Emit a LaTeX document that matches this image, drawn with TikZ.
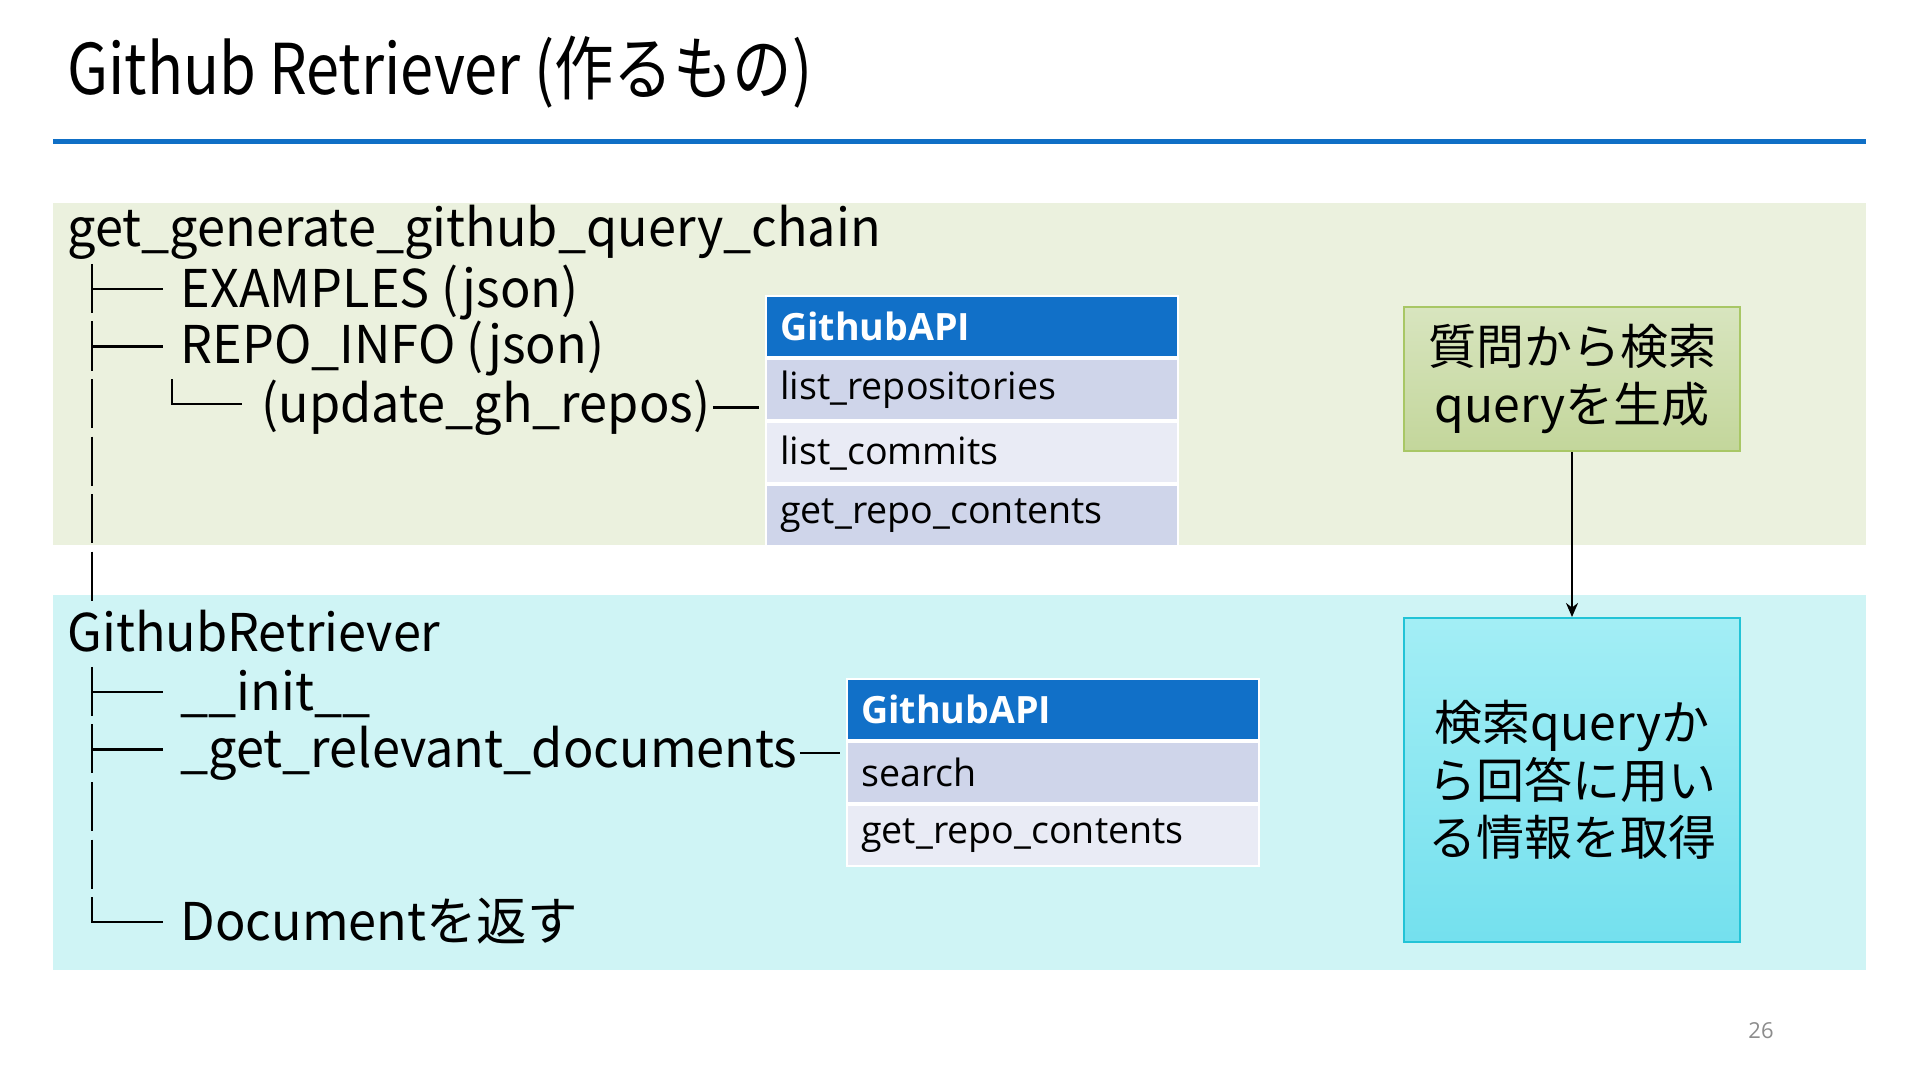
\documentclass[tikz,border=0pt]{standalone}
\usepackage{fontspec}
\setmainfont{Noto Sans CJK JP}
\newfontfamily\titlefont[FakeStretch=0.85]{Noto Sans CJK JP}
\newfontfamily\treefont[FakeStretch=0.97]{Noto Sans CJK JP}
\newfontfamily\tblfont{Open Sans}
\newfontfamily\boxfont{Noto Sans CJK JP}
\usetikzlibrary{arrows.meta}
\definecolor{rulebl}{HTML}{0F6FC6}
\definecolor{greenband}{HTML}{EBF1DE}
\definecolor{cyanband}{HTML}{CFF4F5}
\definecolor{hdrbl}{HTML}{1170C8}
\definecolor{rowdk}{HTML}{CFD5EA}
\definecolor{rowlt}{HTML}{E9EBF5}
\definecolor{gtop}{HTML}{D8E5BF}
\definecolor{gbot}{HTML}{C3D69B}
\definecolor{gline}{HTML}{A8C765}
\definecolor{ctop}{HTML}{A3EEF5}
\definecolor{cbot}{HTML}{74E0EE}
\definecolor{cline}{HTML}{22C3D6}
\definecolor{pgray}{HTML}{8C8C8C}
\begin{document}
\begin{tikzpicture}[x=0.5pt,y=-0.5pt,
  tree/.style={anchor=base west, inner sep=0pt, font=\treefont\fontsize{26}{30}\selectfont},
  treeline/.style={line width=1.3pt, black},
  cell/.style={anchor=north west, inner xsep=7pt, inner ysep=0pt, text width=192pt, minimum height=30.5pt, align=left, draw=white, line width=1.2pt, font=\tblfont\fontsize{18.8}{21}\selectfont},
  hdr/.style={cell, fill=hdrbl, text=white, font=\tblfont\bfseries\fontsize{18.8}{21}\selectfont},
  rdk/.style={cell, fill=rowdk},
  rlt/.style={cell, fill=rowlt},
  gbox/.style={draw=gline, line width=1pt, top color=gtop, bottom color=gbot, minimum width=168pt, align=center, font=\boxfont\fontsize{24}{28.8}\selectfont},
  cbox/.style={draw=cline, line width=1pt, top color=ctop, bottom color=cbot, minimum width=168pt, align=center, font=\boxfont\fontsize{24}{28.8}\selectfont}
]
\useasboundingbox (0,0) rectangle (1920,1080);
\fill[white] (0,0) rectangle (1920,1080);

% title
\node[anchor=base west, inner sep=0pt, font=\titlefont\fontsize{35}{40}\selectfont] (title) at (67,95) {Github Retriever (作るもの)};
\fill[rulebl] (53,139.5) rectangle (1866,144.5);

% bands
\fill[greenband] (53,203) rectangle (1866,545);
\fill[cyanband] (53,595) rectangle (1866,970);

% upper tree
\node[tree] (root1) at (67,247) {get\_generate\_github\_query\_chain};
\node[tree] (ex) at (180,307) {EXAMPLES (json)};
\node[tree] (ri) at (180,364) {REPO\_INFO (json)};
\node[tree] (upd) at (261,422) {(update\_gh\_repos)};
\foreach \c in {289,346.5,404,461.6,519.2,576.7}
  \draw[treeline] (92,{\c-25}) -- (92,{\c+24});
\draw[treeline] (92,289) -- (163,289);
\draw[treeline] (92,346.5) -- (163,346.5);
\draw[treeline] (172,379) -- (172,404) -- (242,404);

% lower tree
\node[tree] (root2) at (67,651) {GithubRetriever};
\node[tree] (ini) at (180,710) {\_\_init\_\_};
\node[tree] (grd) at (180,767) {\_get\_relevant\_documents};
\node[tree] (doc) at (180,940) {Documentを返す};
\foreach \c in {691.8,749.4,807,864.5}
  \draw[treeline] (92,{\c-25}) -- (92,{\c+24});
\draw[treeline] (92,691.8) -- (163,691.8);
\draw[treeline] (92,749.4) -- (163,749.4);
\draw[treeline] (92,897) -- (92,922) -- (163,922);

% table 1
\node[hdr] (t1h) at (765,295) {GithubAPI};
\node[rdk] (t1r1) at (765,358) {list\_repositories};
\node[rlt] (t1r2) at (765,421) {list\_commits};
\node[rdk] (t1r3) at (765,484) {get\_repo\_contents};

% table 2
\node[hdr] (t2h) at (846,678) {GithubAPI};
\node[rdk] (t2r1) at (846,741) {search};
\node[rlt] (t2r2) at (846,804) {get\_repo\_contents};

% connectors from tree to tables
\draw[treeline] ([xshift=1pt]upd.east) -- ([xshift=-3pt]upd.east -| t1r1.west);
\draw[treeline] ([xshift=1pt]grd.east) -- ([xshift=-3pt]grd.east -| t2r1.west);

% right boxes
\node[gbox, minimum height=72pt] (b1) at (1572,379) {質問から検索\\queryを生成};
\node[cbox, minimum height=162pt] (b2) at (1572,780) {検索queryか\\ら回答に用い\\る情報を取得};
\draw[line width=1.2pt, -{Stealth[length=7pt,width=6pt]}] (b1.south) -- (b2.north);

% page number
\node[font=\tblfont\fontsize{11}{13}\selectfont, text=pgray] (pn) at (1761,1031) {26};
\end{tikzpicture}
\end{document}
